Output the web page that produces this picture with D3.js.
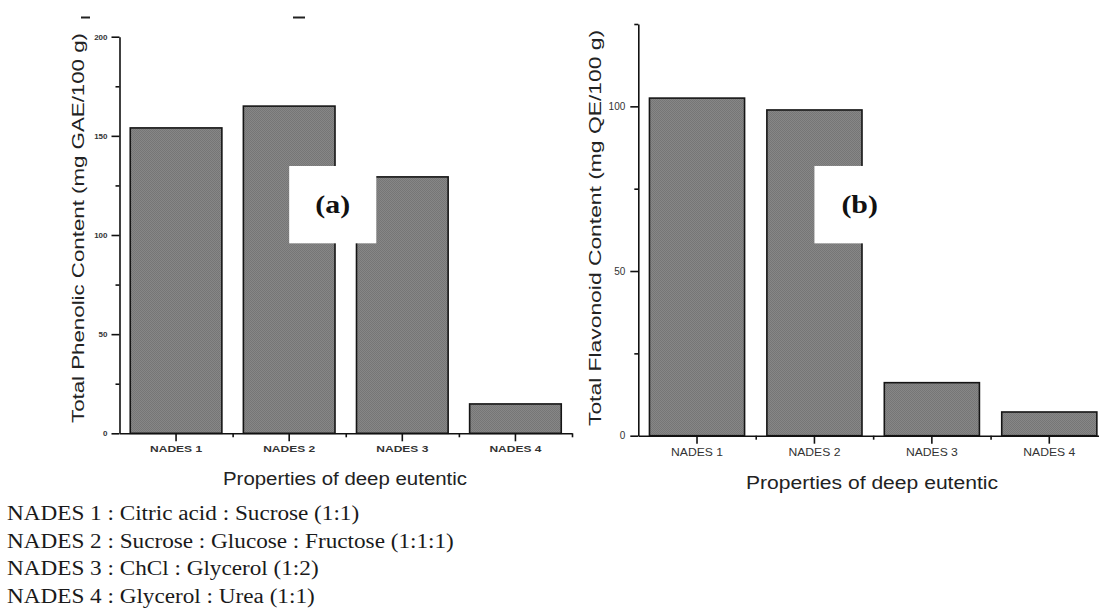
<!DOCTYPE html>
<html>
<head>
<meta charset="utf-8">
<script src="https://cdn.jsdelivr.net/npm/d3@7"></script>
<style>
  body { margin: 0; background: #fff; }
  svg { display: block; }
</style>
</head>
<body>
<svg id="chart" width="1099" height="615"></svg>
<script>
// ---- data ----
const categories = ["NADES 1", "NADES 2", "NADES 3", "NADES 4"];
const phenolicValues = [154, 165, 129.3, 14.8];      // mg GAE/100 g
const flavonoidValues = [102.5, 98.9, 16.1, 7.2];     // mg QE/100 g
const phenolicTicks = [0, 50, 100, 150, 200];
const phenolicMinorTicks = [25, 75, 125, 175];
const flavonoidTicks = [0, 50, 100];
const flavonoidMinorTicks = [25, 75, 125];
const legendLines = [
  "NADES 1 : Citric acid : Sucrose (1:1)",
  "NADES 2 : Sucrose : Glucose : Fructose (1:1:1)",
  "NADES 3 : ChCl : Glycerol (1:2)",
  "NADES 4 : Glycerol : Urea (1:1)"
];

const svg = d3.select("#chart");
const SANS = "'Liberation Sans', Arial, sans-serif";
const SERIF = "'Liberation Serif', 'Times New Roman', serif";

// fine grey dither used as the bar fill
const defs = svg.append("defs");
const pat = defs.append("pattern").attr("id", "dither")
  .attr("width", 2).attr("height", 2).attr("patternUnits", "userSpaceOnUse");
pat.append("rect").attr("width", 2).attr("height", 2).attr("fill", "#878787");
pat.append("rect").attr("width", 1).attr("height", 1).attr("fill", "#767676");
pat.append("rect").attr("x", 1).attr("y", 1).attr("width", 1).attr("height", 1).attr("fill", "#767676");

function drawPanel(p) {
  const x = d3.scaleBand().domain(categories).range([p.x0, p.x1])
    .paddingInner(0.19).paddingOuter(0.095);
  const y = d3.scaleLinear().domain(p.domain).range([p.yBottom, p.yTop]);
  const g = svg.append("g");

  // bars
  g.selectAll("rect.bar").data(p.values).join("rect")
    .attr("class", "bar")
    .attr("x", (d, i) => x(categories[i]))
    .attr("y", d => y(d))
    .attr("width", x.bandwidth())
    .attr("height", d => y(0) - y(d))
    .attr("fill", "url(#dither)")
    .attr("stroke", "#151515")
    .attr("stroke-width", 1.6);

  // panel letter on a white plate
  const bx = x(p.boxBand) + x.bandwidth() / 2;
  const bw = x.step() * 0.77;
  const byTop = y(p.boxTop), byBot = y(p.boxBottom);
  g.append("rect").attr("x", bx).attr("y", byTop)
    .attr("width", bw).attr("height", byBot - byTop).attr("fill", "#fff");
  g.append("text")
    .attr("transform", `translate(${bx + bw / 2},${(byTop + byBot) / 2}) scale(1.15,1)`)
    .attr("text-anchor", "middle").attr("dominant-baseline", "central")
    .attr("font-family", SERIF).attr("font-weight", "bold").attr("font-size", 26)
    .attr("fill", "#111").text(p.letter);

  // y axis
  const yAxis = g.append("g").attr("transform", `translate(${p.x0},0)`)
    .call(d3.axisLeft(y).tickValues(p.ticks).tickSize(8).tickSizeOuter(0)
      .tickPadding(p.tickPad).tickFormat(d3.format("d")));
  yAxis.selectAll("text").attr("font-family", SANS).attr("font-size", p.yTickFont)
    .attr("font-weight", p.yTickWeight).attr("fill", "#333");
  g.append("g").attr("transform", `translate(${p.x0},0)`)
    .call(d3.axisLeft(y).tickValues(p.minor).tickSize(4).tickFormat(""))
    .select(".domain").remove();

  // x axis
  const xAxis = g.append("g").attr("transform", `translate(0,${y(0)})`)
    .call(d3.axisBottom(x).tickSize(8).tickSizeOuter(0).tickPadding(p.xTickPad));
  xAxis.selectAll("text").attr("font-family", SANS).attr("font-size", p.xTickFont)
    .attr("font-weight", p.xTickWeight).attr("fill", "#333")
    .attr("textLength", p.xTickLen).attr("lengthAdjust", "spacingAndGlyphs");
  const edge = d3.scaleLinear().domain([0, categories.length]).range([p.x0, p.x1]);
  g.append("g").attr("transform", `translate(0,${y(0)})`)
    .call(d3.axisBottom(edge).tickValues(d3.range(1, categories.length + 1)).tickSize(4).tickFormat(""))
    .select(".domain").remove();

  g.selectAll(".domain, .tick line").attr("stroke", "#111").attr("stroke-width", 1.6);

  // axis titles
  g.append("text")
    .attr("transform", `translate(${p.yTitleX},${p.yTitleY}) rotate(-90)`)
    .attr("text-anchor", "middle").attr("dominant-baseline", "central")
    .attr("font-family", SANS).attr("font-size", 16).attr("fill", "#222")
    .attr("textLength", p.yTitleLen).attr("lengthAdjust", "spacingAndGlyphs")
    .text(p.yTitle);
  g.append("text")
    .attr("x", p.xTitleX).attr("y", p.xTitleY)
    .attr("text-anchor", "middle")
    .attr("font-family", SANS).attr("font-size", 18).attr("fill", "#222")
    .attr("textLength", p.xTitleLen).attr("lengthAdjust", "spacingAndGlyphs")
    .text("Properties of deep eutentic");
}

// (a) total phenolic content
drawPanel({
  values: phenolicValues, domain: [0, 200], ticks: phenolicTicks, minor: phenolicMinorTicks,
  x0: 119.5, x1: 572, yBottom: 433.3, yTop: 36.7,
  tickPad: 4, yTickFont: 8, yTickWeight: "bold",
  xTickPad: 4, xTickFont: 9, xTickWeight: "bold", xTickLen: 52,
  boxBand: "NADES 2", boxTop: 134.8, boxBottom: 95.8, letter: "(a)",
  yTitle: "Total Phenolic Content (mg GAE/100 g)", yTitleX: 78, yTitleY: 228, yTitleLen: 390,
  xTitleX: 345, xTitleY: 485, xTitleLen: 244
});

// (b) total flavonoid content
drawPanel({
  values: flavonoidValues, domain: [0, 125], ticks: flavonoidTicks, minor: flavonoidMinorTicks,
  x0: 638.3, x1: 1108, yBottom: 435.7, yTop: 24,
  tickPad: 5, yTickFont: 10, yTickWeight: "normal",
  xTickPad: 5, xTickFont: 11, xTickWeight: "normal", xTickLen: 52,
  boxBand: "NADES 2", boxTop: 81.9, boxBottom: 58.4, letter: "(b)",
  yTitle: "Total Flavonoid Content (mg QE/100 g)", yTitleX: 595, yTitleY: 228, yTitleLen: 396,
  xTitleX: 872, xTitleY: 489, xTitleLen: 252
});

// cropped caption fragments along the top edge
svg.append("g").selectAll("line").data([[81, 90], [293, 305]]).join("line")
  .attr("x1", d => d[0]).attr("x2", d => d[1]).attr("y1", 17.5).attr("y2", 17.5)
  .attr("stroke", "#222").attr("stroke-width", 2);

// key to the solvent systems
const key = svg.append("g").attr("transform", "translate(7,0) scale(1.16,1)");
key.selectAll("text").data(legendLines).join("text")
  .attr("x", 0).attr("y", (d, i) => 520 + i * 27.6)
  .attr("font-family", SERIF).attr("font-size", 20).attr("fill", "#1a1a1a")
  .text(d => d);
</script>
</body>
</html>
